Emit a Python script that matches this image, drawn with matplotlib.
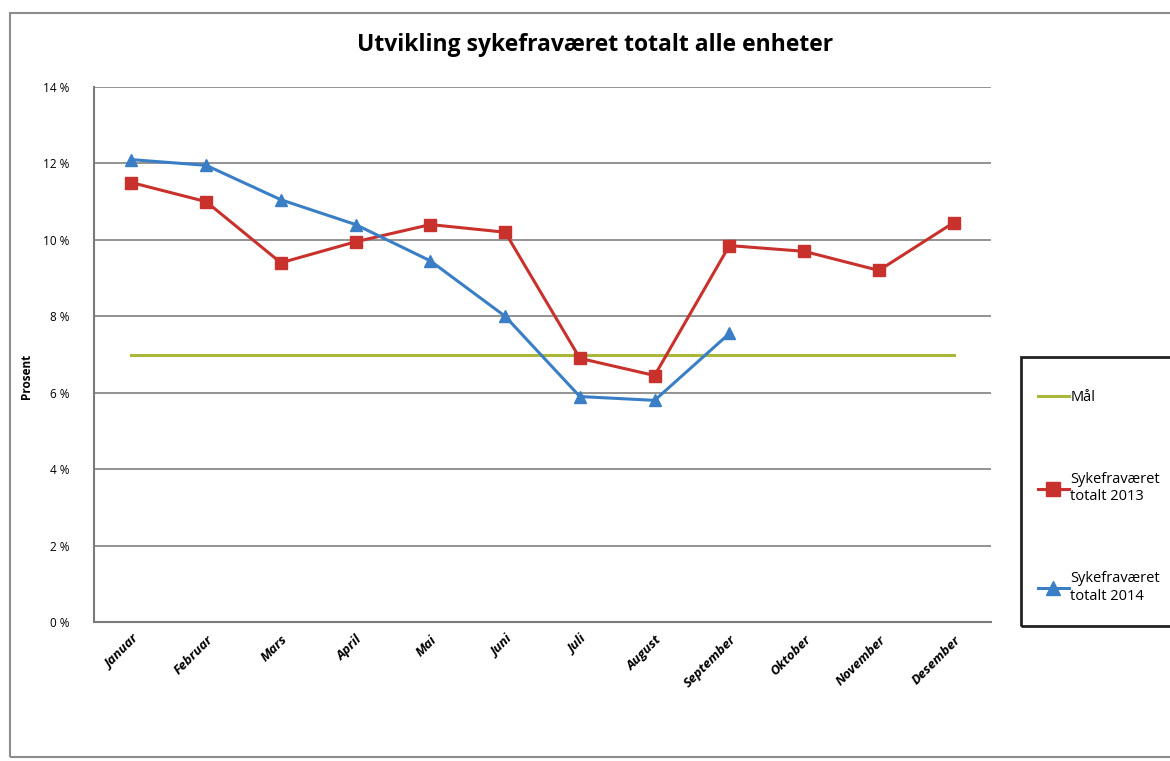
import matplotlib.pyplot as plt
from matplotlib.patches import Rectangle
from matplotlib.ticker import FuncFormatter

# Månedlig sykefravær i prosent
maaneder = ["Januar", "Februar", "Mars", "April", "Mai", "Juni", "Juli",
            "August", "September", "Oktober", "November", "Desember"]
fravaer_2013 = [11.5, 11.0, 9.4, 9.95, 10.4, 10.2, 6.9, 6.45, 9.85, 9.7, 9.2, 10.45]
fravaer_2014 = [12.1, 11.95, 11.05, 10.4, 9.45, 8.0, 5.9, 5.8, 7.55]
maal = [7.0] * 12

RED = "#c8312c"
BLUE = "#3a7ec6"
GREEN = "#a9b83a"

plt.rcParams["font.family"] = ["Open Sans", "DejaVu Sans"]


def main() -> None:
    fig = plt.figure(figsize=(11.7, 7.61), dpi=100)
    ax = fig.add_axes([94 / 1170, 1 - 622 / 761, 897 / 1170, 535 / 761])

    x = list(range(len(maaneder)))
    ax.plot(x, maal, color=GREEN, lw=2.2, label="Mål")
    ax.plot(x, fravaer_2013, color=RED, lw=2.2, marker="s", ms=8,
            label="Sykefraværet\ntotalt 2013")
    ax.plot(x[:len(fravaer_2014)], fravaer_2014, color=BLUE, lw=2.2, marker="^", ms=8,
            label="Sykefraværet\ntotalt 2014")

    ax.set_xlim(-0.5, len(maaneder) - 0.5)
    ax.set_ylim(0, 14)
    ax.set_yticks(range(0, 15, 2))
    ax.yaxis.set_major_formatter(FuncFormatter(lambda v, p: f"{v:.0f} %"))
    ax.set_xticks(x)
    ax.set_xticklabels(maaneder, rotation=45, ha="right", rotation_mode="anchor",
                       fontsize=9.5, fontweight="bold", fontstyle="italic")
    ax.tick_params(axis="y", labelsize=8.5, length=0, pad=18)
    ax.tick_params(axis="x", length=0, pad=8)

    ax.grid(axis="y", color="#8a8a8a", lw=1.3)
    ax.set_axisbelow(True)
    for side in ("top", "right"):
        ax.spines[side].set_visible(False)
    ax.spines["left"].set_color("#7a7a7a")
    ax.spines["left"].set_linewidth(1.5)
    ax.spines["bottom"].set_color("#7a7a7a")
    ax.spines["bottom"].set_linewidth(1.5)

    ax.set_ylabel("Prosent", fontsize=8.5, fontweight="bold", labelpad=4)
    ax.yaxis.set_label_coords(-0.068, 0.46)

    fig.text(595 / 1170, 1 - 45 / 761, "Utvikling sykefraværet totalt alle enheter",
             ha="center", va="center", fontsize=16.5, fontweight="bold")

    # ytre ramme rundt diagrammet
    fig.patches.append(Rectangle((10 / 1170, 1 - 757 / 761), 1.2, 744 / 761,
                                 transform=fig.transFigure, fill=False,
                                 edgecolor="#8c8c8c", lw=1.5))
    # ramme rundt forklaringen
    fig.patches.append(Rectangle((1021 / 1170, 1 - 626 / 761), 0.2, 269 / 761,
                                 transform=fig.transFigure, fill=False,
                                 edgecolor="#222222", lw=2))

    fig.legend(loc="upper left", bbox_to_anchor=(1025 / 1170, 1 - 377 / 761),
               frameon=False, fontsize=10.5, handlelength=2.1, handletextpad=0.1,
               labelspacing=4.6, markerscale=1.2)

    fig.savefig("out.png", dpi=100)


if __name__ == "__main__":
    main()
